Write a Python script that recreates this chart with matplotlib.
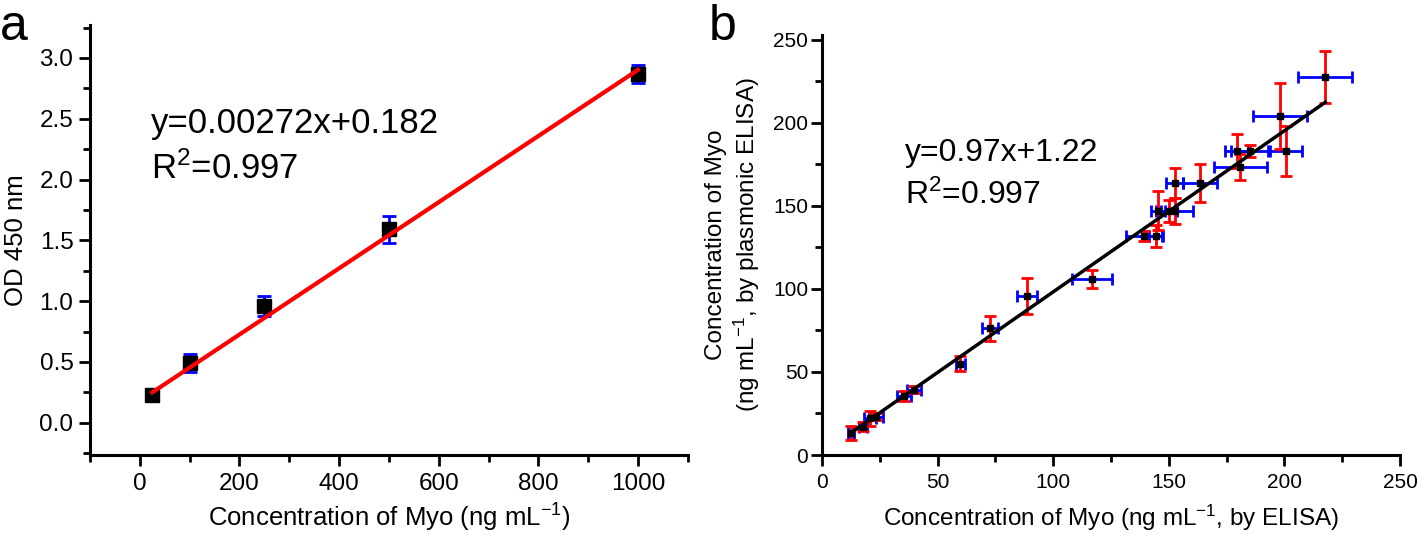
import numpy as np
import matplotlib
matplotlib.use("Agg")
import matplotlib.pyplot as plt
from matplotlib.ticker import MultipleLocator

plt.rcParams['font.family'] = ['Liberation Sans', 'DejaVu Sans']
plt.rcParams['mathtext.default'] = 'regular'

# panel a: calibration
conc_a = [25, 100, 250, 500, 1000]
od_a = [0.23, 0.49, 0.96, 1.59, 2.87]
od_err = [0.03, 0.075, 0.085, 0.11, 0.075]
slope_a, icpt_a = 0.00272, 0.182

# panel b: ELISA vs plasmonic ELISA
elisa = [12.4, 17.7, 20.8, 23.4, 35.5, 39.8, 59.9, 72.6, 88.6, 116.8,
         139.3, 144.3, 145.3, 150.2, 152.6, 152.6, 163.5, 179.3, 185.1, 181.0,
         198.2, 200.7, 217.7]
elisa_err = [1.3, 1.6, 2.5, 3.0, 2.9, 3.0, 2.0, 3.6, 4.2, 8.6,
             7.6, 3.0, 3.0, 3.5, 8.0, 3.7, 7.5, 5.0, 8.0, 11.4,
             11.6, 7.0, 11.6]
plasm = [13.4, 17.0, 22.0, 23.0, 35.4, 39.4, 55.0, 76.4, 95.8, 106.0,
         132.0, 132.0, 147.0, 147.0, 147.0, 164.0, 164.0, 183.0, 183.0, 173.4,
         204.0, 183.0, 227.4]
plasm_err = [4.2, 2.7, 4.7, 2.0, 3.0, 2.3, 4.4, 7.5, 11.0, 5.2,
             3.0, 6.7, 11.8, 6.7, 8.0, 9.0, 11.4, 10.0, 3.5, 7.8,
             20.0, 15.0, 15.7]
slope_b, icpt_b = 0.97, 1.22

fig = plt.figure(figsize=(14.18, 5.35), dpi=100)
ax1 = fig.add_axes([0.0635, 0.1495, 0.4215, 0.8035])
ax2 = fig.add_axes([0.5797, 0.1495, 0.4076, 0.7855])

def style(ax, size, ypad):
  for s in ['top', 'right']:
    ax.spines[s].set_visible(False)
  for s in ['left', 'bottom']:
    ax.spines[s].set_linewidth(2.2)
  ax.tick_params(which='major', length=8, width=2, labelsize=size, direction='out', pad=5)
  ax.tick_params(which='minor', length=5, width=2, direction='out')
  ax.tick_params(axis='y', pad=ypad)

# ---- a ----
ax1.errorbar(conc_a, od_a, yerr=od_err, fmt='s', color='black', ms=10,
             ecolor='blue', elinewidth=2, capsize=5, capthick=2, zorder=2)
xf = np.array([conc_a[0], conc_a[-1]])
ax1.plot(xf, slope_a * xf + icpt_a, color='red', lw=3, zorder=3)
ax1.set_xlim(-100, 1100)
ax1.set_ylim(-0.265, 3.27)
ax1.xaxis.set_major_locator(MultipleLocator(200))
ax1.xaxis.set_minor_locator(MultipleLocator(100))
ax1.yaxis.set_major_locator(MultipleLocator(0.5))
ax1.yaxis.set_minor_locator(MultipleLocator(0.25))
ax1.yaxis.set_major_formatter(matplotlib.ticker.FormatStrFormatter('%.1f'))
style(ax1, 17.5, 4)
ax1.set_xlabel('Concentration of Myo (ng mL$^{-1}$)', fontsize=18.5, labelpad=5)
ax1.set_ylabel('OD 450 nm', fontsize=18.5, labelpad=8)
ax1.text(22, 2.38, 'y=0.00272x+0.182', fontsize=25)
ax1.text(22, 2.01, 'R$^{2}$=0.997', fontsize=25)
fig.text(0.0, 0.925, 'a', fontsize=36)

# ---- b ----
ax2.errorbar(elisa, plasm, xerr=elisa_err, fmt='none', ecolor='blue',
             elinewidth=2, capsize=4, capthick=2, zorder=2)
ax2.errorbar(elisa, plasm, yerr=plasm_err, fmt='none', ecolor='red',
             elinewidth=2, capsize=4, capthick=2, zorder=2)
xb = np.array([min(elisa), max(elisa)])
ax2.plot(xb, slope_b * xb + icpt_b, color='black', lw=2.5, zorder=3)
ax2.plot(elisa, plasm, 's', color='black', ms=5, zorder=4)
ax2.set_xlim(0, 250)
ax2.set_ylim(0, 253)
ax2.xaxis.set_major_locator(MultipleLocator(50))
ax2.xaxis.set_minor_locator(MultipleLocator(25))
ax2.yaxis.set_major_locator(MultipleLocator(50))
ax2.yaxis.set_minor_locator(MultipleLocator(25))
style(ax2, 15, 2)
ax2.set_xlabel('Concentration of Myo (ng mL$^{-1}$, by ELISA)', fontsize=17.5, labelpad=8)
ax2.set_ylabel('Concentration of Myo\n(ng mL$^{-1}$, by plasmonic ELISA)', fontsize=17.5, labelpad=8)
ax2.text(36, 177, 'y=0.97x+1.22', fontsize=23)
ax2.text(36, 151, 'R$^{2}$=0.997', fontsize=23)
fig.text(0.5, 0.925, 'b', fontsize=36)

fig.savefig('out.png', dpi=100)
